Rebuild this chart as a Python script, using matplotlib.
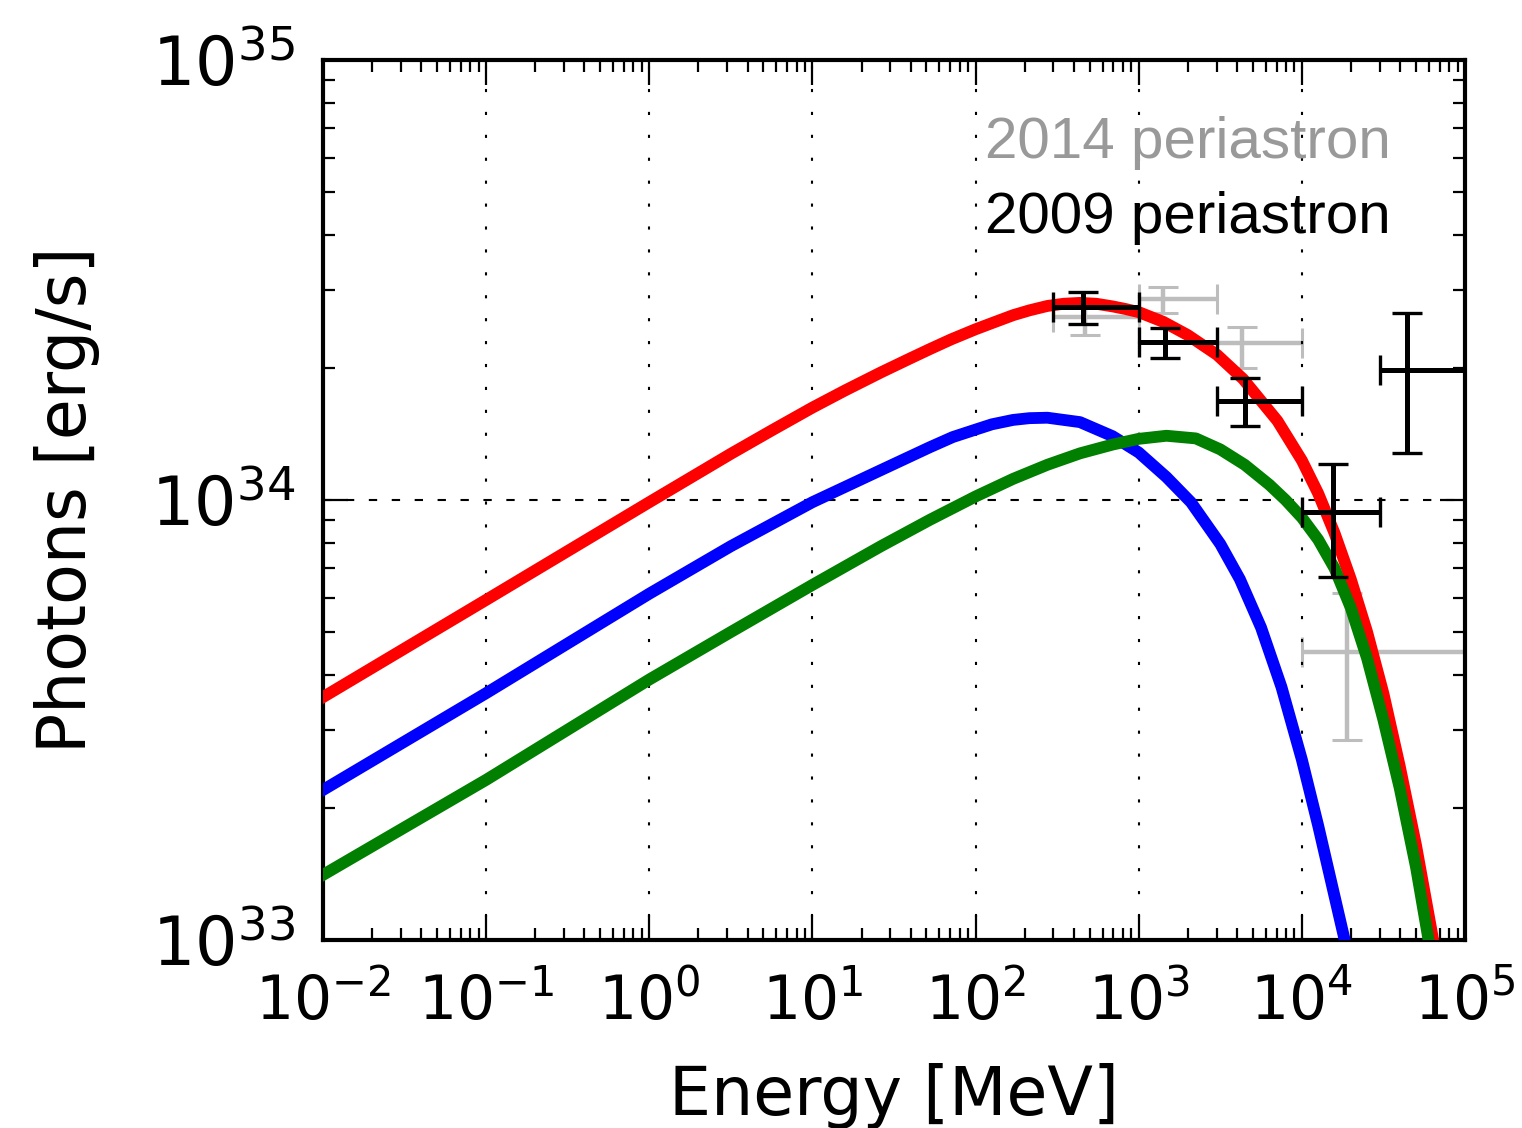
import numpy as np
import matplotlib
matplotlib.use('Agg')
import matplotlib.pyplot as plt
from matplotlib.ticker import LogLocator, LogFormatterMathtext, NullFormatter

plt.rcParams['axes.unicode_minus'] = False
plt.rcParams['font.family'] = 'DejaVu Sans'

# model curves, log10(E/MeV) -> log10(L/(erg/s))
red_logE = [-2, -1, 0, 0.5, 0.75, 1.0, 1.2, 1.42, 1.6, 1.72, 1.85, 2.0, 2.1, 2.23,
            2.33, 2.44, 2.54, 2.64, 2.74, 2.84, 2.92, 3.0, 3.15, 3.3, 3.48, 3.64,
            3.85, 4.0, 4.1, 4.2, 4.3, 4.4, 4.5, 4.6, 4.7, 4.8, 4.9]
red_logL = [33.552, 33.773, 33.995, 34.105, 34.158, 34.21, 34.249, 34.29, 34.322,
            34.343, 34.365, 34.388, 34.402, 34.42, 34.431, 34.441, 34.446, 34.448,
            34.446, 34.44, 34.434, 34.427, 34.405, 34.375, 34.33, 34.275, 34.18,
            34.09, 34.015, 33.925, 33.82, 33.70, 33.56, 33.395, 33.215, 33.01, 32.78]

blue_logE = [-2, -1, 0, 0.5, 1, 1.42, 1.72, 1.86, 2.0, 2.1, 2.23, 2.33, 2.44, 2.64,
             2.84, 3.0, 3.17, 3.32, 3.5, 3.62, 3.75, 3.875, 4.0, 4.1, 4.2, 4.3]
blue_logL = [33.341, 33.561, 33.787, 33.895, 33.995, 34.068, 34.12, 34.143, 34.16,
             34.172, 34.182, 34.186, 34.187, 34.177, 34.145, 34.108, 34.052, 33.995,
             33.9, 33.82, 33.71, 33.575, 33.41, 33.26, 33.10, 32.94]

green_logE = [-2, -1, 0, 0.5, 1, 1.42, 1.72, 2.0, 2.23, 2.44, 2.64, 2.84, 3.0, 3.17,
              3.35, 3.5, 3.65, 3.8, 3.9, 4.0, 4.1, 4.2, 4.3, 4.4, 4.5, 4.6, 4.7, 4.8, 4.9]
green_logL = [33.148, 33.364, 33.592, 33.70, 33.807, 33.895, 33.955, 34.008, 34.048,
              34.08, 34.106, 34.126, 34.139, 34.146, 34.14, 34.115, 34.08, 34.035,
              34.0, 33.96, 33.91, 33.845, 33.755, 33.64, 33.50, 33.345, 33.165,
              32.95, 32.72]

# 2009 periastron (black)
e09 = np.array([457, 1450, 4500, 15600, 44300])
e09_lo = np.array([300, 1000, 3000, 10000, 30000])
e09_hi = np.array([1000, 3000, 10000, 30000, 100000])
l09 = np.array([2.75e34, 2.29e34, 1.68e34, 9.4e33, 1.97e34])
l09_lo = np.array([2.51e34, 2.10e34, 1.47e34, 6.7e33, 1.28e34])
l09_hi = np.array([2.97e34, 2.46e34, 1.89e34, 1.21e34, 2.66e34])

# 2014 periastron (grey)
e14 = np.array([470, 1410, 4320, 19000])
e14_lo = np.array([300, 1000, 3000, 10000])
e14_hi = np.array([1000, 3000, 10000, 100000])
l14 = np.array([2.61e34, 2.86e34, 2.28e34, 4.52e33])
l14_lo = np.array([2.37e34, 2.66e34, 2.0e34, 2.85e33])
l14_hi = np.array([2.85e34, 3.05e34, 2.47e34, 6.15e33])

fig = plt.figure(figsize=(15.22, 11.28), dpi=100)
ax = fig.add_axes([323/1522, 1-940/1128, 1142/1522, 880/1128])

ax.errorbar(e14, l14, xerr=[e14-e14_lo, e14_hi-e14], yerr=[l14-l14_lo, l14_hi-l14],
            fmt='none', ecolor='#bdbdbd', elinewidth=3.2, capsize=11, capthick=2.2, zorder=2)

for logE, logL, col in [(red_logE, red_logL, '#ff0000'),
                        (blue_logE, blue_logL, '#0000ff'),
                        (green_logE, green_logL, '#007f00')]:
    ax.plot(10**np.array(logE), 10**np.array(logL), color=col, lw=8.5,
            solid_joinstyle='round', zorder=3)

ax.errorbar(e09, l09, xerr=[e09-e09_lo, e09_hi-e09], yerr=[l09-l09_lo, l09_hi-l09],
            fmt='none', ecolor='k', elinewidth=3.6, capsize=11, capthick=2.4, zorder=4)

ax.set_xscale('log')
ax.set_yscale('log')
ax.set_xlim(1e-2, 1e5)
ax.set_ylim(1e33, 1e35)

ax.xaxis.set_major_locator(LogLocator(base=10, numticks=20))
ax.xaxis.set_minor_locator(LogLocator(base=10, subs=np.arange(2, 10), numticks=20))
ax.yaxis.set_major_locator(LogLocator(base=10, numticks=20))
ax.yaxis.set_minor_locator(LogLocator(base=10, subs=np.arange(2, 10), numticks=20))
ax.xaxis.set_major_formatter(LogFormatterMathtext())
ax.yaxis.set_major_formatter(LogFormatterMathtext())
ax.xaxis.set_minor_formatter(NullFormatter())
ax.yaxis.set_minor_formatter(NullFormatter())

ax.tick_params(which='both', direction='in', top=True, right=True, width=1.6, color='k')
ax.tick_params(which='major', length=18)
ax.tick_params(which='minor', length=8.5)
ax.tick_params(axis='x', which='major', labelsize=43, pad=24)
ax.tick_params(axis='y', which='major', labelsize=48, pad=20)

for sp in ax.spines.values():
    sp.set_linewidth(3)

ax.xaxis.grid(True, which='major', color='k', lw=1.5, linestyle=(0, (1.5, 9.5)))
ax.yaxis.grid(True, which='major', color='k', lw=1.5, linestyle=(0, (4, 7)))
ax.set_axisbelow(False)
for gl in ax.get_xgridlines() + ax.get_ygridlines():
    gl.set_zorder(1)

ax.set_xlabel('Energy [MeV]', fontsize=48, labelpad=22)
ax.set_ylabel('Photons [erg/s]', fontsize=48)
ax.yaxis.set_label_coords(-0.195, 0.5)

ax.text(0.58, 0.889, '2014 periastron', transform=ax.transAxes, fontsize=42,
        family='Liberation Sans', color='#999999', ha='left', va='baseline', zorder=5)
ax.text(0.58, 0.803, '2009 periastron', transform=ax.transAxes, fontsize=42,
        family='Liberation Sans', color='k', ha='left', va='baseline', zorder=5)

fig.savefig('out.png', dpi=100)
